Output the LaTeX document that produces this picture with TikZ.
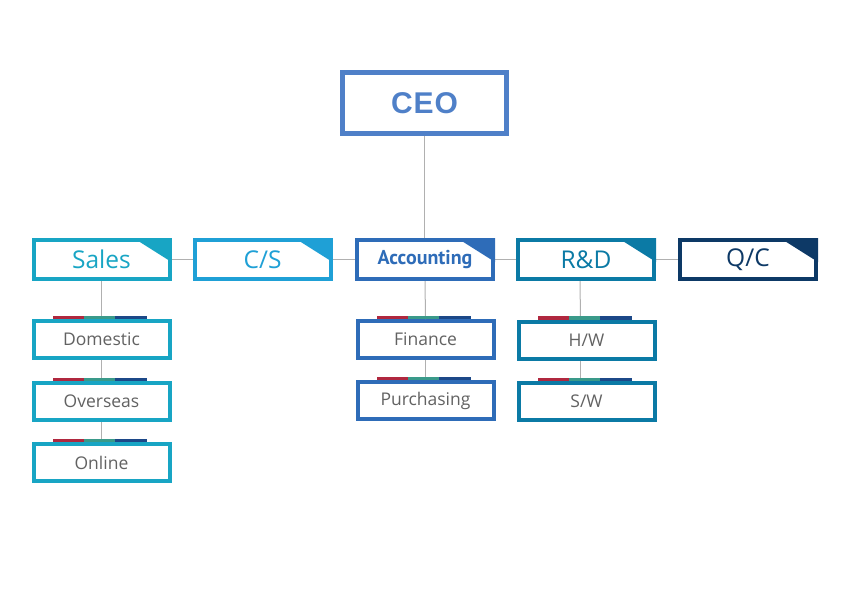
\documentclass[tikz,border=0pt]{standalone}
\usepackage{fontspec}
\setmainfont{Open Sans}
\newfontfamily\ceofont[LetterSpace=3]{Liberation Sans}
\newfontfamily\accfont{PT Sans}
\definecolor{ceoblue}{HTML}{4F80C8}
\definecolor{salesc}{HTML}{18A5C4}
\definecolor{csc}{HTML}{1FA0D6}
\definecolor{accc}{HTML}{2E6CB8}
\definecolor{rdc}{HTML}{0B7AA5}
\definecolor{qcc}{HTML}{0D3966}
\definecolor{linec}{HTML}{B0B0B0}
\definecolor{barred}{HTML}{B0283F}
\definecolor{barteal}{HTML}{3A9A8A}
\definecolor{barnavy}{HTML}{1C4888}
\definecolor{subtext}{HTML}{626262}
\tikzset{
  ceobox/.style={draw=ceoblue, line width=5pt, fill=white, minimum width=164pt, minimum height=61pt, inner sep=0pt,
    text=ceoblue, font=\ceofont\bfseries\fontsize{30}{32}\selectfont},
  topbox/.style={draw=#1, line width=4pt, fill=white, minimum width=136pt, minimum height=39pt, inner sep=0pt,
    text=#1, font=\fontsize{24.5}{27}\selectfont},
  subbox/.style={draw=#1, line width=4pt, fill=white, minimum width=136pt, minimum height=37pt, inner sep=0pt,
    text=subtext, font=\fontsize{17.5}{19}\selectfont},
  conn/.style={draw=linec, line width=1pt},
}
\newcommand{\cornerflag}[2]{%
  \fill[#2] ([xshift=-38pt]#1.north east) -- (#1.north east) -- ([yshift=-24pt]#1.north east) -- cycle;}
\newcommand{\colorbars}[1]{%
  \fill[barred] ([xshift=-49pt]#1.north) rectangle ([xshift=-17.7pt,yshift=3.5pt]#1.north);
  \fill[barteal] ([xshift=-17.7pt]#1.north) rectangle ([xshift=13.7pt,yshift=3.5pt]#1.north);
  \fill[barnavy] ([xshift=13.7pt]#1.north) rectangle ([xshift=45pt,yshift=3.5pt]#1.north);}
\begin{document}
\begin{tikzpicture}[x=1pt,y=-1pt]
\useasboundingbox (0,0) rectangle (850,600);
% nodes
\node[ceobox] (ceo) at (424.5,103) {CEO};
\node[topbox=salesc] (sales) at (101.5,259.5) {\raisebox{-1pt}{Sales}};
\node[topbox=csc] (cs) at (262.5,259.5) {\raisebox{-1pt}{C/S}};
\node[topbox=accc, font=\accfont\bfseries\fontsize{20}{22}\selectfont] (acc) at (425,259.5) {Accounting};
\node[topbox=rdc] (rd) at (586,259.5) {\raisebox{-1pt}{R\&D}};
\node[topbox=qcc] (qc) at (748,259.5) {\raisebox{-1pt}{Q/C}};
\node[subbox=salesc] (dom) at (101.5,339.5) {\raisebox{-1.5pt}{Domestic}};
\node[subbox=salesc] (ovs) at (101.5,401.5) {\raisebox{-1.5pt}{Overseas}};
\node[subbox=salesc] (onl) at (101.5,462.5) {\raisebox{-1.5pt}{Online}};
\node[subbox=accc] (fin) at (425.5,339.5) {\raisebox{-1pt}{Finance}};
\node[subbox=accc] (pur) at (425.5,400.5) {\raisebox{-1pt}{Purchasing}};
\node[subbox=rdc] (hw) at (586.5,340) {\raisebox{-1.5pt}{H/W}};
\node[subbox=rdc] (sw) at (586.5,401.5) {\raisebox{-1.5pt}{S/W}};
% connectors
\draw[conn] (ceo.south) -- (ceo.south |- acc.north);
\draw[conn] (sales.east) -- (cs.west);
\draw[conn] (cs.east) -- (acc.west);
\draw[conn] (acc.east) -- (rd.west);
\draw[conn] (rd.east) -- (qc.west);
\draw[conn] (sales.south) -- (dom.north);
\draw[conn] (dom.south) -- (ovs.north);
\draw[conn] (ovs.south) -- (onl.north);
\draw[conn] (acc.south) -- (fin.north);
\draw[conn] (fin.south) -- (pur.north);
\draw[conn] ([xshift=-6pt]rd.south) -- ([xshift=-6pt]hw.north);
\draw[conn] ([xshift=-6pt]hw.south) -- ([xshift=-6pt]sw.north);
% corner flags
\cornerflag{sales}{salesc}
\cornerflag{cs}{csc}
\cornerflag{acc}{accc}
\cornerflag{rd}{rdc}
\cornerflag{qc}{qcc}
% colour bars
\colorbars{dom}
\colorbars{ovs}
\colorbars{onl}
\colorbars{fin}
\colorbars{pur}
\colorbars{hw}
\colorbars{sw}
\end{tikzpicture}
\end{document}
